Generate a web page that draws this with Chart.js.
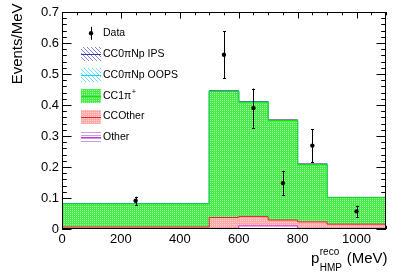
<!DOCTYPE html>
<html><head><meta charset="utf-8">
<script src="https://cdn.jsdelivr.net/npm/chart.js@4.4.0/dist/chart.umd.min.js"></script>
<style>html,body{margin:0;padding:0;background:#fff;} #wrap{width:407px;height:275px;position:relative;}</style>
</head><body><div id="wrap"><canvas id="c" width="407" height="275"></canvas></div>
<script>
// ---- data ----
const binEdges    = [0, 500, 600, 700, 800, 900, 1100];
const otherVals   = [0.002, 0.002, 0.010, 0.010, 0.002, 0.002];
const ccOtherVals = [0.0045, 0.035, 0.030, 0.019, 0.021, 0.0135];
const cc1piVals   = [0.0745, 0.407, 0.369, 0.321, 0.185, 0.0855];
const oopsVals    = [0, 0, 0, 0, 0, 0];
const ipsVals     = [0.001, 0.002, 0.002, 0.002, 0.002, 0.001];
const dataX   = [250, 550, 650, 750, 850, 1000];
const dataY   = [0.091, 0.562, 0.390, 0.148, 0.269, 0.057];
const dataErr = [0.013, 0.076, 0.063, 0.039, 0.053, 0.018];
const xTicks = [0, 200, 400, 600, 800, 1000];
const yTicks = [0, 0.1, 0.2, 0.3, 0.4, 0.5, 0.6, 0.7];
const yTickLabels = ['0', '0.1', '0.2', '0.3', '0.4', '0.5', '0.6', '0.7'];
const xMinorStep = 50, yMinorStep = 0.02;
const legendNames = ['Data', 'CC0\u03c0Np IPS', 'CC0\u03c0Np OOPS', 'CC1\u03c0', 'CCOther', 'Other'];

const FONT = '"Liberation Sans", Arial, Helvetica, sans-serif';

function pat(size, draw) {
  const c = document.createElement('canvas'); c.width = c.height = size;
  const g = c.getContext('2d'); draw(g, size);
  return g.createPattern(c, 'repeat');
}
const greenPat = pat(2, g => { g.fillStyle = 'rgb(72,236,72)'; g.fillRect(0,0,2,2); g.fillStyle = 'rgb(160,255,160)'; g.fillRect(0,0,1,1); });
const redPat = pat(2, g => { g.fillStyle = 'rgb(255,168,168)'; g.fillRect(0,0,2,2); g.fillStyle = 'rgb(255,215,215)'; g.fillRect(0,0,1,1); });
const otherPat = pat(3, g => { g.fillStyle = '#fff'; g.fillRect(0,0,3,3); g.fillStyle = 'rgb(195,160,230)'; g.fillRect(0,0,3,1); });
function diagPat(col) { return pat(4, g => { g.fillStyle = '#fff'; g.fillRect(0,0,4,4); g.fillStyle = col; for (let i = 0; i < 4; i++) g.fillRect(i, i, 1, 1); }); }
const ipsPat = diagPat('rgb(130,130,225)');
const oopsPat = diagPat('rgb(110,225,255)');

const comps = [
  { name: 'Other', vals: otherVals, fill: otherPat, line: 'rgb(220,40,220)' },
  { name: 'CCOther', vals: ccOtherVals, fill: redPat, line: 'rgb(235,30,30)' },
  { name: 'CC1pi', vals: cc1piVals, fill: greenPat, line: 'rgb(20,225,20)' },
  { name: 'OOPS', vals: oopsVals, fill: oopsPat, line: 'rgb(0,215,255)' },
  { name: 'IPS', vals: ipsVals, fill: ipsPat, line: 'rgb(55,55,150)' }
];
let cum = binEdges.slice(0, -1).map(() => 0);
const stackSets = comps.map((c, k) => {
  cum = cum.map((v, i) => v + c.vals[i]);
  const pts = cum.map((v, i) => ({ x: binEdges[i], y: v }));
  pts.push({ x: binEdges[binEdges.length - 1], y: cum[cum.length - 1] });
  return {
    type: 'line', label: c.name, data: pts, stepped: 'before',
    borderColor: c.line, borderWidth: 1, backgroundColor: c.fill,
    fill: k === 0 ? 'origin' : '-1', pointRadius: 0, tension: 0
  };
});
const dataSet = {
  type: 'scatter', label: 'Data', order: -1,
  data: dataX.map((x, i) => ({ x, y: dataY[i] })),
  pointRadius: 2.2, pointBackgroundColor: '#000', pointBorderColor: '#000', pointBorderWidth: 0
};

const rootPlugin = {
  id: 'rootStyle',
  beforeDatasetsDraw(chart) {
    const { ctx, chartArea: a, scales: { x, y } } = chart;
    ctx.save(); ctx.strokeStyle = '#000'; ctx.lineWidth = 1;
    ctx.beginPath();
    for (let v = 0; v <= 0.7 + 1e-9; v += yMinorStep) {
      const major = Math.abs(v * 10 - Math.round(v * 10)) < 1e-6;
      const L = major ? 9.5 : 4.8;
      const py = Math.round(y.getPixelForValue(v)) + 0.5;
      ctx.moveTo(a.left, py); ctx.lineTo(a.left + L, py);
      ctx.moveTo(a.right, py); ctx.lineTo(a.right - L, py);
    }
    for (let v = 0; v <= 1100 + 1e-9; v += xMinorStep) {
      const major = v % 200 === 0;
      const L = major ? 6.5 : 3.3;
      const px = Math.round(x.getPixelForValue(v)) + 0.5;
      ctx.moveTo(px, a.top); ctx.lineTo(px, a.top + L);
      ctx.moveTo(px, a.bottom); ctx.lineTo(px, a.bottom - L);
    }
    ctx.stroke(); ctx.restore();
  },
  afterDatasetsDraw(chart) {
    const { ctx, chartArea: a, scales: { x, y } } = chart;
    ctx.save();
    // error bars
    ctx.strokeStyle = '#000'; ctx.lineWidth = 1;
    ctx.beginPath();
    dataX.forEach((dx, i) => {
      const px = Math.round(x.getPixelForValue(dx)) + 0.5;
      const y1 = y.getPixelForValue(dataY[i] + dataErr[i]);
      const y2 = y.getPixelForValue(dataY[i] - dataErr[i]);
      ctx.moveTo(px, y1); ctx.lineTo(px, y2);
      ctx.moveTo(px - 1.5, Math.round(y1) + 0.5); ctx.lineTo(px + 1.5, Math.round(y1) + 0.5);
      ctx.moveTo(px - 1.5, Math.round(y2) + 0.5); ctx.lineTo(px + 1.5, Math.round(y2) + 0.5);
    });
    ctx.stroke();
    // frame
    ctx.strokeRect(a.left + 0.5, a.top + 0.5, a.right - a.left - 1, a.bottom - a.top - 1);
    ctx.restore();
  },
  afterDraw(chart) {
    const { ctx } = chart;
    ctx.save();
    ctx.fillStyle = '#000';
    // y title
    ctx.save();
    ctx.translate(21.5, 3.5); ctx.rotate(-Math.PI / 2);
    ctx.font = '15px ' + FONT; ctx.textAlign = 'right'; ctx.textBaseline = 'alphabetic';
    ctx.fillText('Events/MeV', 0, 0);
    ctx.restore();
    // x title
    const mainF = '15px ' + FONT, smallF = '10px ' + FONT;
    ctx.textBaseline = 'alphabetic'; ctx.textAlign = 'left';
    ctx.font = mainF; const wp = ctx.measureText('p').width; const wu = ctx.measureText(' (MeV)').width;
    ctx.font = smallF; const ws = Math.max(ctx.measureText('reco').width, ctx.measureText('HMP').width);
    const xEnd = 387.5, base = 263;
    let x0 = xEnd - wu - ws - wp - 1;
    ctx.font = mainF; ctx.fillText('p', x0, base);
    ctx.font = smallF; ctx.fillText('reco', x0 + wp + 0.5, base - 8); ctx.fillText('HMP', x0 + wp + 0.5, base + 8);
    ctx.font = mainF; ctx.fillText(' (MeV)', x0 + wp + ws + 1, base);
    // legend
    const ly = [33.3, 54.3, 75, 95.7, 116.5, 137];
    const bx = 81, bw = 20, bh = 14, tx = 103;
    ctx.font = '10.5px ' + FONT; ctx.textBaseline = 'middle';
    // Data
    ctx.fillStyle = '#000';
    ctx.beginPath(); ctx.arc(91, ly[0], 2.2, 0, Math.PI * 2); ctx.fill();
    ctx.strokeStyle = '#000'; ctx.lineWidth = 1;
    ctx.beginPath(); ctx.moveTo(91.5, ly[0] - 6.5); ctx.lineTo(91.5, ly[0] + 6.5); ctx.stroke();
    ctx.fillText(legendNames[0], tx, ly[0]);
    const legComps = [comps[4], comps[3], comps[2], comps[1], comps[0]];
    legComps.forEach((c, i) => {
      const yy = ly[i + 1];
      ctx.fillStyle = c.fill; ctx.fillRect(bx, Math.round(yy - bh / 2), bw, bh);
      ctx.strokeStyle = c.line; ctx.lineWidth = 1;
      ctx.beginPath(); ctx.moveTo(bx, Math.round(yy) + 0.5); ctx.lineTo(bx + bw, Math.round(yy) + 0.5); ctx.stroke();
      ctx.fillStyle = '#000';
      ctx.fillText(legendNames[i + 1], tx, yy);
      if (i === 2) {
        const w = ctx.measureText(legendNames[3]).width;
        ctx.font = '7.5px ' + FONT; ctx.fillText('+', tx + w + 0.5, yy - 4);
        ctx.font = '10.5px ' + FONT;
      }
    });
    ctx.restore();
  }
};

new Chart(document.getElementById('c'), {
  data: { datasets: [...stackSets, dataSet] },
  options: {
    responsive: false, animation: false, devicePixelRatio: 1,
    layout: { padding: { top: 12, right: 21, left: 0, bottom: 0 } },
    plugins: { legend: { display: false }, tooltip: { enabled: false } },
    scales: {
      x: {
        type: 'linear', min: 0, max: 1100,
        grid: { display: false, drawTicks: false }, border: { display: false },
        afterBuildTicks: s => { s.ticks = xTicks.map(v => ({ value: v })); },
        afterFit: s => { s.height = 46; },
        ticks: { autoSkip: false, maxRotation: 0, padding: 3, color: '#000', font: { family: FONT, size: 13 }, callback: v => String(v) }
      },
      y: {
        type: 'linear', min: 0, max: 0.7,
        grid: { display: false, drawTicks: false }, border: { display: false },
        afterBuildTicks: s => { s.ticks = yTicks.map(v => ({ value: v })); },
        afterFit: s => { s.width = 62; },
        ticks: { autoSkip: false, padding: 3, color: '#000', font: { family: FONT, size: 13 },
          callback: (v, i) => yTickLabels[i] }
      }
    }
  },
  plugins: [rootPlugin]
});
</script></body></html>
